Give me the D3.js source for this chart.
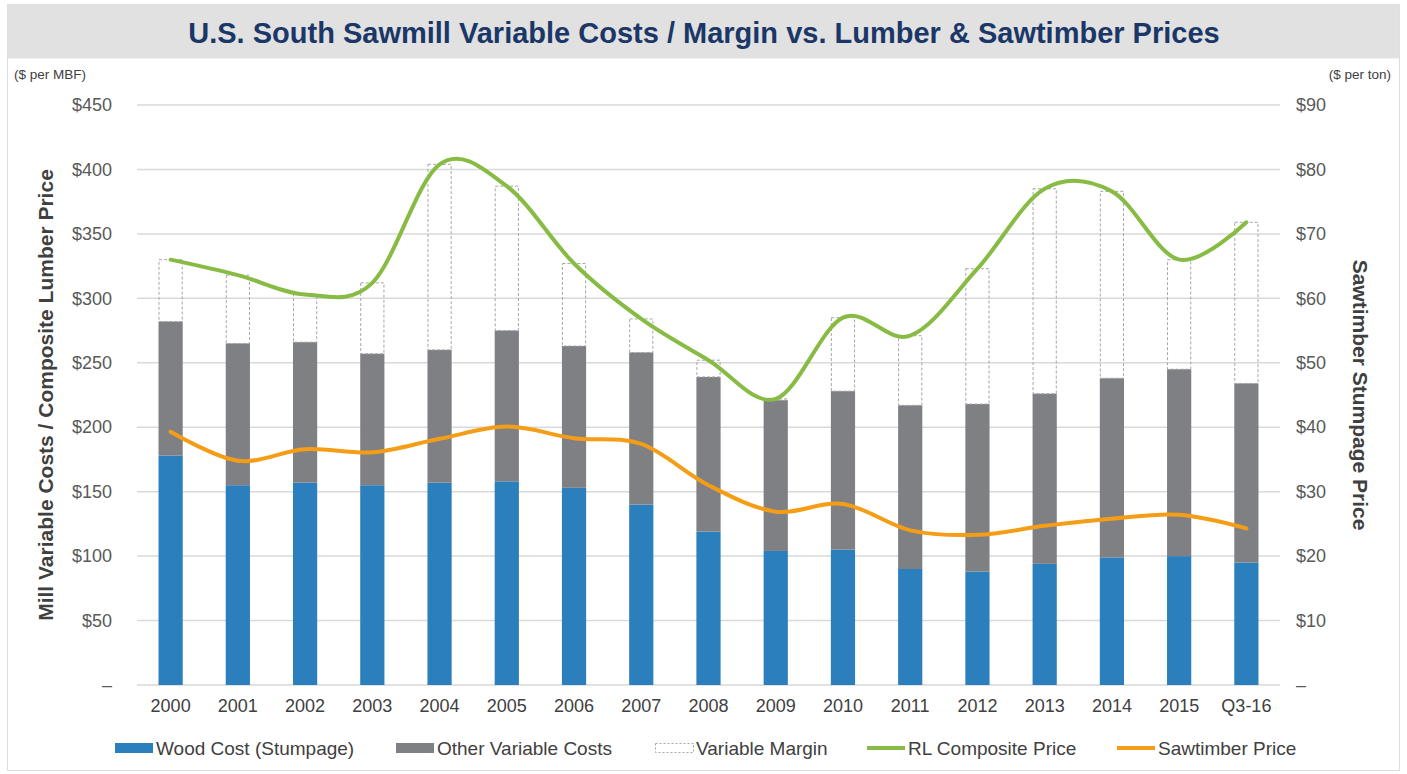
<!DOCTYPE html>
<html>
<head>
<meta charset="utf-8">
<script src="https://cdn.jsdelivr.net/npm/d3@7"></script>
<style>
  html, body { margin: 0; padding: 0; background: #fff; }
  svg { display: block; font-family: "Liberation Sans", Arial, Helvetica, sans-serif; }
</style>
</head>
<body>
<svg id="chart" width="1407" height="774"></svg>
<script>
// ---- data ----
const categories = ["2000","2001","2002","2003","2004","2005","2006","2007","2008","2009","2010","2011","2012","2013","2014","2015","Q3-16"];
const woodCost   = [178, 155, 157, 155, 157, 158, 153, 140, 119, 104, 105, 90, 88, 94, 99, 100, 95];
const otherCost  = [104, 110, 109, 102, 103, 117, 110, 118, 120, 117, 123, 127, 130, 132, 139, 145, 139];
const varMargin  = [48, 53, 37, 55, 144, 112, 64, 26, 13, 1, 57, 54, 105, 159, 145, 85, 125];
const rlPrice    = [330, 318, 303, 312, 404, 387, 327, 284, 252, 222, 285, 271, 323, 385, 383, 330, 359];
const sawPrice   = [39.3, 34.8, 36.6, 36.1, 38.2, 40.1, 38.3, 37.4, 31.0, 26.9, 28.1, 24.0, 23.3, 24.7, 25.8, 26.4, 24.3];
const leftTicks  = [0, 50, 100, 150, 200, 250, 300, 350, 400, 450];
const rightTicks = [0, 10, 20, 30, 40, 50, 60, 70, 80, 90];
const legendItems = ["Wood Cost (Stumpage)", "Other Variable Costs", "Variable Margin", "RL Composite Price", "Sawtimber Price"];

const C = { blue: "#2a7fbc", gray: "#7f8084", margin: "#a6a6a6", green: "#88bb44", orange: "#f59d16",
            grid: "#d9d9d9", text: "#595959", dark: "#404040", title: "#1b3767" };
const FONT = "Liberation Sans, Arial, sans-serif";

const svg = d3.select("#chart");

// frame + title band
svg.append("rect").attr("x", 7.5).attr("y", 4.5).attr("width", 1392).attr("height", 766)
  .attr("fill", "#fff").attr("stroke", "#dcdcdc");
svg.append("rect").attr("x", 7.5).attr("y", 4.5).attr("width", 1392).attr("height", 54)
  .attr("fill", "#e1e1e1");
svg.append("text").attr("x", 704).attr("y", 43).attr("text-anchor", "middle")
  .attr("font-size", 29).attr("font-weight", "bold").attr("fill", C.title)
  .text("U.S. South Sawmill Variable Costs / Margin vs. Lumber & Sawtimber Prices");

const plot = { left: 137, right: 1280, top: 105, bottom: 685 };

const x = d3.scaleBand().domain(categories).range([plot.left, plot.right]).paddingInner(0.64).paddingOuter(0.32);
const y = d3.scaleLinear().domain([0, 450]).range([plot.bottom, plot.top]);
const y2 = d3.scaleLinear().domain([0, 90]).range([plot.bottom, plot.top]);

// gridlines
svg.append("g").selectAll("line").data(leftTicks).join("line")
  .attr("x1", plot.left).attr("x2", plot.right)
  .attr("y1", d => y(d)).attr("y2", d => y(d))
  .attr("stroke", C.grid).attr("stroke-width", 1.5);

// left axis
const fmtL = d => d === 0 ? "–" : "$" + d;
const gL = svg.append("g").attr("transform", `translate(${plot.left},0)`)
  .call(d3.axisLeft(y).tickValues(leftTicks).tickFormat(fmtL).tickSize(0).tickPadding(25));
gL.select(".domain").remove();
gL.selectAll("text").attr("font-size", 18).attr("fill", C.text).attr("font-family", FONT);

// right axis
const fmtR = d => d === 0 ? "–" : "$" + d;
const gR = svg.append("g").attr("transform", `translate(${plot.right},0)`)
  .call(d3.axisRight(y2).tickValues(rightTicks).tickFormat(fmtR).tickSize(0).tickPadding(16));
gR.select(".domain").remove();
gR.selectAll("text").attr("font-size", 18).attr("fill", C.text).attr("font-family", FONT);

// bottom axis
const gB = svg.append("g").attr("transform", `translate(0,${plot.bottom})`)
  .call(d3.axisBottom(x).tickSize(0).tickPadding(14));
gB.select(".domain").remove();
gB.selectAll("text").attr("font-size", 18).attr("fill", C.dark).attr("font-family", FONT);

// unit labels
svg.append("text").attr("x", 14).attr("y", 79).attr("font-size", 13.5).attr("fill", C.dark).text("($ per MBF)");
svg.append("text").attr("x", 1391).attr("y", 79).attr("text-anchor", "end").attr("font-size", 13.5).attr("fill", C.dark).text("($ per ton)");

// axis titles
svg.append("text").attr("transform", `translate(53,${(plot.top + plot.bottom) / 2}) rotate(-90)`)
  .attr("text-anchor", "middle").attr("font-size", 21).attr("font-weight", "bold").attr("fill", C.dark)
  .text("Mill Variable Costs / Composite Lumber Price");
svg.append("text").attr("transform", `translate(1353,${(plot.top + plot.bottom) / 2}) rotate(90)`)
  .attr("text-anchor", "middle").attr("font-size", 21).attr("font-weight", "bold").attr("fill", C.dark)
  .text("Sawtimber Stumpage Price");

// stacked bars
const rows = categories.map((c, i) => ({ cat: c, wood: woodCost[i], other: otherCost[i], margin: varMargin[i] }));
const stack = d3.stack().keys(["wood", "other", "margin"])(rows);
const bars = svg.append("g");
bars.selectAll("rect.wood").data(stack[0]).join("rect").attr("class", "wood")
  .attr("x", d => x(d.data.cat)).attr("width", x.bandwidth())
  .attr("y", d => y(d[1])).attr("height", d => y(d[0]) - y(d[1]))
  .attr("fill", C.blue);
bars.selectAll("rect.other").data(stack[1]).join("rect").attr("class", "other")
  .attr("x", d => x(d.data.cat)).attr("width", x.bandwidth())
  .attr("y", d => y(d[1])).attr("height", d => y(d[0]) - y(d[1]))
  .attr("fill", C.gray);
bars.selectAll("rect.margin").data(stack[2]).join("rect").attr("class", "margin")
  .attr("x", d => x(d.data.cat) + 0.5).attr("width", x.bandwidth() - 1)
  .attr("y", d => y(d[1])).attr("height", d => Math.max(0, y(d[0]) - y(d[1])))
  .attr("fill", "none").attr("stroke", C.margin).attr("stroke-width", 1).attr("stroke-dasharray", "3,2");

// lines
const cx = c => x(c) + x.bandwidth() / 2;
const lineRL = d3.line().x((d, i) => cx(categories[i])).y(d => y(d)).curve(d3.curveCatmullRom.alpha(0));
const lineSaw = d3.line().x((d, i) => cx(categories[i])).y(d => y2(d)).curve(d3.curveCatmullRom.alpha(0));
svg.append("path").attr("d", lineRL(rlPrice)).attr("fill", "none").attr("stroke", C.green)
  .attr("stroke-width", 4).attr("stroke-linecap", "round");
svg.append("path").attr("d", lineSaw(sawPrice)).attr("fill", "none").attr("stroke", C.orange)
  .attr("stroke-width", 4).attr("stroke-linecap", "round");

// legend
const legX = [115, 396, 655, 867, 1117];
const legY = 748;
const leg = svg.append("g");
legendItems.forEach((name, i) => {
  const g = leg.append("g").attr("transform", `translate(${legX[i]},${legY})`);
  if (i === 0 || i === 1) {
    g.append("rect").attr("x", 0).attr("y", -5).attr("width", 38).attr("height", 10)
      .attr("fill", i === 0 ? C.blue : C.gray);
  } else if (i === 2) {
    g.append("rect").attr("x", 0.5).attr("y", -4.5).attr("width", 38).attr("height", 9)
      .attr("fill", "none").attr("stroke", C.margin).attr("stroke-dasharray", "2,2");
  } else {
    g.append("line").attr("x1", 0).attr("x2", 38).attr("y1", 0).attr("y2", 0)
      .attr("stroke", i === 3 ? C.green : C.orange).attr("stroke-width", 4);
  }
  g.append("text").attr("x", 41).attr("y", 7).attr("font-size", 19).attr("fill", C.dark).text(name);
});
</script>
</body>
</html>
